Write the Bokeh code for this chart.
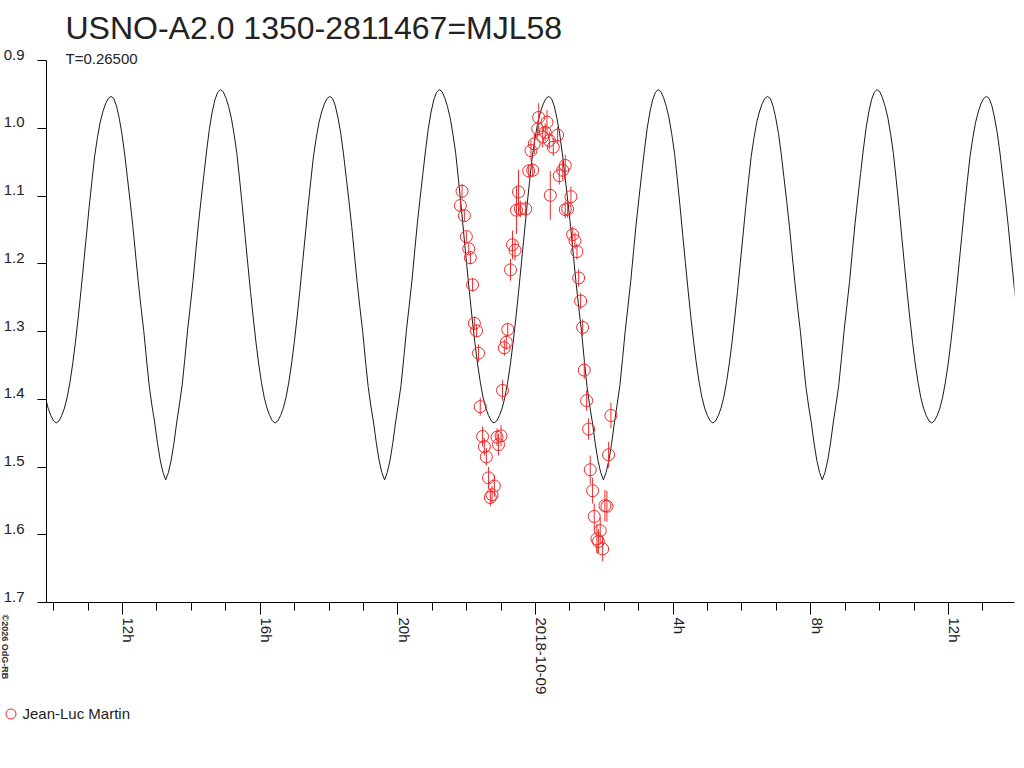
import math
from bokeh.plotting import figure
from bokeh.models import (Range1d, FixedTicker, Label, Legend, LegendItem,
                          ColumnDataSource)
from bokeh.embed import file_html
from bokeh.resources import INLINE

# ---------------- data ----------------
# observation times: hours from 2018-10-09 00:00 UT
obs_t = [-2.134, -2.183, -2.067, -2.009, -1.939, -1.893, -1.829, -1.776, -1.713, -1.655,
         -1.605, -1.538, -1.486, -1.428, -1.364, -1.312, -1.263, -1.196, -1.118, -1.074,
         -1.001, -0.958, -0.906, -0.848, -0.807, -0.726, -0.668, -0.595, -0.552, -0.441,
         -0.284, -0.493, -0.197, -0.081, -0.131, -0.035, 0.064, 0.093, 0.209, 0.284,
         0.334, 0.401, 0.517, 0.644, 0.430, 0.691, 0.790, 0.865, 1.030, 0.935,
         0.865, 1.080, 1.147, 1.205, 1.254, 1.312, 1.370, 1.417, 1.486, 1.544,
         1.591, 1.660, 1.707, 1.785, 1.881, 1.829, 1.951, 2.017, 2.075, 2.125,
         2.192]
obs_mag = [1.093, 1.114, 1.129, 1.160, 1.178, 1.191, 1.231, 1.288, 1.299, 1.332,
           1.411, 1.455, 1.470, 1.485, 1.516, 1.545, 1.541, 1.528, 1.456, 1.467,
           1.454, 1.387, 1.324, 1.316, 1.297, 1.209, 1.172, 1.180, 1.121, 1.119,
           1.119, 1.094, 1.063, 1.062, 1.033, 1.023, 1.001, 0.984, 1.013, 1.006,
           0.991, 1.018, 1.028, 1.010, 1.099, 1.070, 1.062, 1.055, 1.101, 1.119,
           1.120, 1.157, 1.166, 1.182, 1.221, 1.255, 1.294, 1.357, 1.402, 1.444,
           1.504, 1.535, 1.573, 1.606, 1.594, 1.610, 1.621, 1.557, 1.558, 1.482,
           1.424]
obs_err = [0.011, 0.009, 0.008, 0.008, 0.008, 0.010, 0.010, 0.010, 0.009, 0.013,
           0.013, 0.015, 0.013, 0.013, 0.016, 0.013, 0.013, 0.016, 0.013, 0.016,
           0.016, 0.015, 0.012, 0.011, 0.010, 0.016, 0.021, 0.015, 0.035, 0.012,
           0.012, 0.033, 0.010, 0.010, 0.015, 0.015, 0.012, 0.021, 0.015, 0.013,
           0.018, 0.013, 0.013, 0.012, 0.036, 0.013, 0.013, 0.016, 0.015, 0.013,
           0.013, 0.012, 0.012, 0.012, 0.013, 0.012, 0.012, 0.013, 0.015, 0.016,
           0.021, 0.019, 0.019, 0.022, 0.020, 0.018, 0.018, 0.023, 0.023, 0.019,
           0.019]

# light-curve template (phase, magnitude)
period_days = 0.26500
epoch_h = 1.974  # primary minimum, hours from 2018-10-09 00:00 UT
tmpl_phase = [0.0000, 0.0125, 0.0250, 0.0375, 0.0500, 0.0625, 0.0750, 0.0875, 0.1000, 0.1125,
              0.1250, 0.1375, 0.1500, 0.1625, 0.1750, 0.1875, 0.2000, 0.2125, 0.2250, 0.2375,
              0.2500, 0.2625, 0.2750, 0.2875, 0.3000, 0.3125, 0.3250, 0.3375, 0.3500, 0.3625,
              0.3750, 0.3875, 0.4000, 0.4125, 0.4250, 0.4375, 0.4500, 0.4625, 0.4750, 0.4875,
              0.5000, 0.5125, 0.5250, 0.5375, 0.5500, 0.5625, 0.5750, 0.5875, 0.6000, 0.6125,
              0.6250, 0.6375, 0.6500, 0.6625, 0.6750, 0.6875, 0.7000, 0.7125, 0.7250, 0.7375,
              0.7500, 0.7625, 0.7750, 0.7875, 0.8000, 0.8125, 0.8250, 0.8375, 0.8500, 0.8625,
              0.8750, 0.8875, 0.9000, 0.9125, 0.9250, 0.9375, 0.9500, 0.9625, 0.9750, 0.9875]
tmpl_mag = [1.519, 1.508, 1.490, 1.465, 1.435, 1.408, 1.380, 1.340, 1.298, 1.262,
            1.225, 1.182, 1.140, 1.103, 1.067, 1.032, 1.000, 0.976, 0.958, 0.947,
            0.943, 0.946, 0.955, 0.968, 0.985, 1.009, 1.037, 1.075, 1.115, 1.158,
            1.200, 1.241, 1.280, 1.316, 1.348, 1.375, 1.397, 1.413, 1.424, 1.432,
            1.435, 1.432, 1.424, 1.413, 1.397, 1.375, 1.348, 1.316, 1.280, 1.241,
            1.200, 1.159, 1.117, 1.079, 1.042, 1.015, 0.992, 0.976, 0.964, 0.956,
            0.953, 0.956, 0.967, 0.985, 1.008, 1.038, 1.073, 1.108, 1.145, 1.187,
            1.228, 1.265, 1.300, 1.342, 1.381, 1.410, 1.435, 1.465, 1.490, 1.508]

y_ticks = [0.9, 1.0, 1.1, 1.2, 1.3, 1.4, 1.5, 1.6, 1.7]
y_labels = ["0.9", "1.0", "1.1", "1.2", "1.3", "1.4", "1.5", "1.6", "1.7"]
x_major = [-12, -8, -4, 0, 4, 8, 12]
x_minor = [-14, -13, -12, -11, -10, -9, -8, -7, -6, -5, -4, -3, -2, -1, 0,
           1, 2, 3, 4, 5, 6, 7, 8, 9, 10, 11, 12, 13, 14]
x_labels = ["12h", "16h", "20h", "2018-10-09", "4h", "8h", "12h"]

title_text = "USNO-A2.0 1350-2811467=MJL58"
period_text = "T=0.26500"
observer = "Jean-Luc Martin"
copyright_text = "\u00a92026 OdG-RB"

# ---------------- build ----------------
FONT = "Liberation Sans"
RED = "#ee2a2a"
TXT = "#222222"

FRAME_RIGHT = 1014          # the copyright label takes the last ~10 px on the right
x0, x1 = -14.21, 13.92
W, H = 1024, 700
p = figure(width=W, height=H, output_backend="svg", toolbar_location=None,
           x_range=Range1d(x0, x1), y_range=Range1d(1.7, 0.9),
           min_border_left=45, min_border_right=0, min_border_top=60,
           min_border_bottom=H - 602)
p.outline_line_color = None
p.grid.visible = False
p.background_fill_color = "white"
p.border_fill_color = "white"

# title
p.title.text = title_text
p.title.text_font = FONT
p.title.text_font_size = "32px"
p.title.text_font_style = "normal"
p.title.text_color = TXT
p.title.align = "left"
p.title.offset = 19
try:
    p.title.standoff = -4
except Exception:
    p.title.standoff = 0

# model curve
P_h = period_days * 24.0
curve_t, curve_m = [], []
for n in range(-3, 3):
    for ph, mg in zip(tmpl_phase, tmpl_mag):
        curve_t.append(epoch_h + (n + ph) * P_h)
        curve_m.append(mg)
p.line(curve_t, curve_m, line_color="#1a1a1a", line_width=1)

# observations
src = ColumnDataSource(dict(
    t=obs_t, m=obs_mag,
    lo=[m - e for m, e in zip(obs_mag, obs_err)],
    hi=[m + e for m, e in zip(obs_mag, obs_err)]))
p.segment(x0="t", y0="lo", x1="t", y1="hi", source=src, line_color=RED, line_width=1)
p.scatter(x="t", y="m", source=src, marker="circle", size=12,
          fill_color=None, line_color=RED, line_width=1)

# y axis (labels sit just above their ticks: a trailing empty line lifts them)
ya = p.yaxis[0]
ya.ticker = FixedTicker(ticks=y_ticks, minor_ticks=[])
ya.major_label_overrides = {t: s + "\n" for t, s in zip(y_ticks, y_labels)}
ya.major_label_text_line_height = 0.75
ya.major_tick_out = 9
ya.major_tick_in = 0
ya.minor_tick_out = 0
ya.minor_tick_in = 0
ya.major_label_standoff = 13
ya.major_label_text_font = FONT
ya.major_label_text_font_size = "15px"
ya.major_label_text_color = TXT
ya.axis_line_color = "black"
ya.major_tick_line_color = "black"

# x axis (labels sit just right of their ticks, same trick)
xa = p.xaxis[0]
xa.ticker = FixedTicker(ticks=x_major, minor_ticks=x_minor)
xa.major_label_overrides = {t: s + "\n" for t, s in zip(x_major, x_labels)}
xa.major_label_text_line_height = 0.75
xa.major_label_orientation = -math.pi / 2
xa.major_tick_out = 12
xa.major_tick_in = 0
xa.minor_tick_out = 8
xa.minor_tick_in = 0
xa.major_label_standoff = 3
xa.major_label_text_font = FONT
xa.major_label_text_font_size = "15px"
xa.major_label_text_color = TXT
xa.axis_line_color = "black"
xa.major_tick_line_color = "black"
xa.minor_tick_line_color = "black"

# period text (just above the plot frame)
p.add_layout(Label(x=19, y=2, x_units="screen", y_units="screen", text=period_text,
                   text_font=FONT, text_font_size="15px", text_color=TXT,
                   text_baseline="alphabetic", text_align="left"), "above")

# copyright (vertical, at the far left under the y axis)
p.add_layout(Label(x=4.5 - FRAME_RIGHT, y=-12, x_units="screen", y_units="screen",
                   text=copyright_text, angle=-math.pi / 2, text_font=FONT,
                   text_font_size="9px", text_font_style="bold", text_color="#333333",
                   text_align="left", text_baseline="middle"), "right")

# legend strip below the chart (separate root so it is not aligned to the plot frame)
LH = 768 - H
q = figure(width=W, height=LH, output_backend="svg", toolbar_location=None,
           x_range=Range1d(0, 1), y_range=Range1d(0, 1),
           x_axis_type=None, y_axis_type=None, min_border=0)
q.outline_line_color = None
q.grid.visible = False
q.background_fill_color = "white"
q.border_fill_color = "white"
key = q.scatter(x=[5], y=[5], marker="circle", size=12,
                fill_color=None, line_color=RED, line_width=1)
leg = Legend(items=[LegendItem(label=observer, renderers=[key])],
             location=(-2.5, LH - 0.5 - 25),
             glyph_width=25, glyph_height=25, label_standoff=0,
             padding=0, margin=0, border_line_color=None, background_fill_alpha=0,
             label_text_font=FONT, label_text_font_size="15px", label_text_color=TXT)
q.add_layout(leg)

open("out.html", "w").write(file_html([p, q], INLINE))
